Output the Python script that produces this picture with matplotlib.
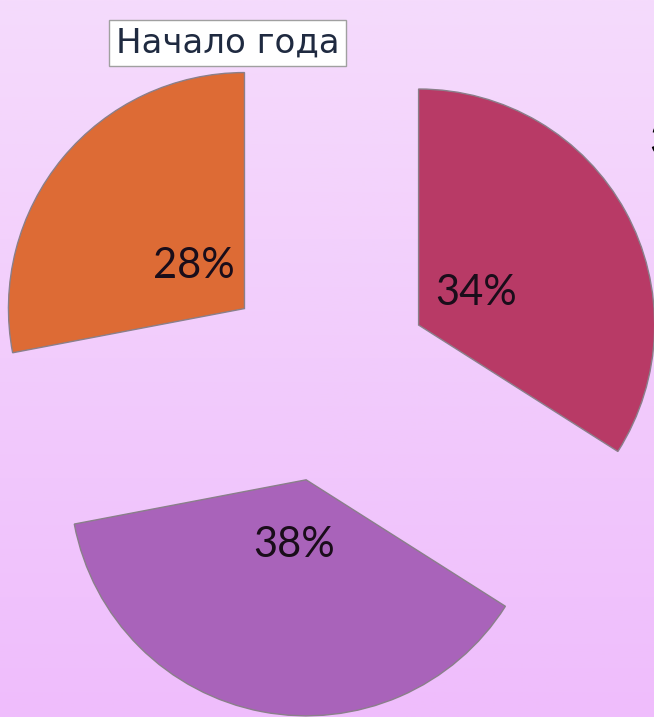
import numpy as np
import matplotlib.pyplot as plt
from matplotlib.colors import LinearSegmentedColormap

# данные диаграммы
shares = [34, 38, 28]
colors = ['#b83a66', '#a963ba', '#dd6b35']
title = 'Начало года'

fig = plt.figure(figsize=(6.54, 7.17), dpi=100)

# фон с градиентом
bg = fig.add_axes([0, 0, 1, 1])
cmap = LinearSegmentedColormap.from_list('bg', ['#f5dbfc', '#efbdfc'])
bg.imshow(np.linspace(0, 1, 256).reshape(-1, 1), aspect='auto', cmap=cmap,
          extent=[0, 1, 0, 1])
bg.axis('off')

ax = fig.add_axes([0, 0, 1, 1])
ax.patch.set_visible(False)
wedges, texts, autotexts = ax.pie(
    shares, colors=colors, startangle=90, counterclock=False,
    explode=[0.448] * 3, autopct='%d%%', pctdistance=0.28,
    wedgeprops=dict(edgecolor='#8a7f8a', linewidth=1),
    textprops=dict(family='Lato', fontsize=30, color='#1a0d1a'))
ax.set_xlim(-1.381, 1.390)
ax.set_ylim(-1.445, 1.593)
ax.set_aspect('auto')
ax.axis('off')

fig.text(0.348, 0.940, title, family='DejaVu Sans', fontsize=24.5,
         color='#1f2a40', ha='center', va='center',
         bbox=dict(boxstyle='square,pad=0.2', facecolor='white',
                   edgecolor='#a0a0a0', linewidth=1))

# обрезанная подпись у правого края
fig.text(0.992, 0.80, '3', family='Lato', fontsize=30, color='black',
         ha='left', va='center')

fig.savefig('out.png', dpi=100)
